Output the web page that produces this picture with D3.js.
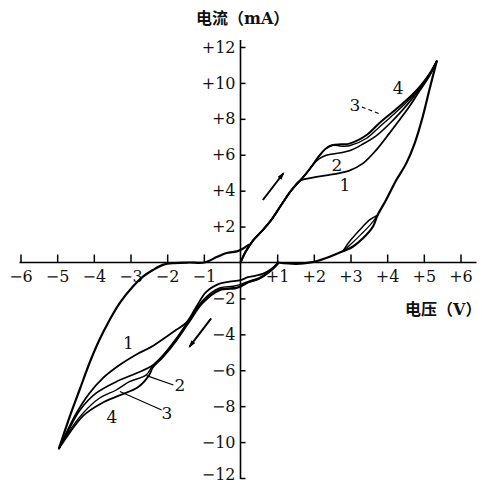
<!DOCTYPE html>
<html>
<head>
<meta charset="utf-8">
<script src="https://cdn.jsdelivr.net/npm/d3@7"></script>
<style>
html, body { margin: 0; padding: 0; background: #fff; }
svg { display: block; }
</style>
</head>
<body>
<div id="chart"></div>
<script>
// ── 데이터: [전압 V, 전류 mA] ─────────────────────────────
const xTicks = [-6, -5, -4, -3, -2, -1, 1, 2, 3, 4, 5, 6];
const yTicks = [12, 10, 8, 6, 4, 2, -2, -4, -6, -8, -10, -12];

// 원점에서 올라가는 공통 구간
const rising = [[0, 0], [0.14, 0.6], [0.34, 1.22], [0.61, 1.81], [0.84, 2.37],
  [1.11, 3.2], [1.38, 4.0], [1.62, 4.55]];

// 위쪽 갈래 1~4 (분기점 이후)
const upper4 = [[1.79, 4.95], [1.97, 5.43], [2.15, 5.95], [2.34, 6.36], [2.52, 6.54],
  [2.75, 6.58], [2.97, 6.62], [3.44, 7.1], [3.79, 7.77], [4.15, 8.38], [4.53, 9.05],
  [4.88, 9.77], [5.15, 10.5], [5.35, 11.2]];
const upper3 = [[2.75, 6.48], [2.97, 6.5], [3.44, 6.92], [3.79, 7.55], [4.15, 8.2],
  [4.53, 8.92], [4.88, 9.7], [5.15, 10.46], [5.35, 11.2]];
const upper2 = [[2.15, 5.78], [2.34, 5.97], [2.7, 6.1], [2.97, 6.22], [3.3, 6.55],
  [3.7, 7.05], [4.15, 7.9], [4.53, 8.75], [4.88, 9.63], [5.15, 10.42], [5.35, 11.2]];
const upper1 = [[1.97, 4.72], [2.34, 4.85], [2.7, 4.98], [2.97, 5.12], [3.34, 5.52],
  [3.7, 6.26], [4.06, 7.19], [4.34, 7.95], [4.61, 8.7], [4.88, 9.55], [5.15, 10.38], [5.35, 11.2]];

// 오른쪽 위 귀환 곡선 (끝점 → +1V)
const returnUpper = [[5.35, 11.2], [5.15, 9.6], [4.97, 8.12], [4.75, 6.64], [4.52, 5.52],
  [4.25, 4.59], [3.97, 3.48], [3.74, 2.64], [3.61, 1.99], [3.34, 1.35], [3.06, 0.88],
  [2.79, 0.62], [2.43, 0.32], [2.15, 0.12], [1.96, 0.02], [1.52, -0.08], [1.02, 0]];
const lensA = [[3.74, 2.64], [3.52, 2.37], [3.25, 1.81], [2.97, 1.16], [2.79, 0.62]];
const lensB = [[3.74, 2.64], [3.55, 2.12], [3.28, 1.55], [3.0, 1.0], [2.79, 0.62]];

// 아래쪽 갈래 1~4 (+1V → 왼쪽 아래 끝점)
const lower1 = [[1.02, -0.02], [0.85, -0.35], [0.62, -0.62], [0.4, -0.74], [0.2, -0.82],
  [0, -0.98], [-0.3, -1.07], [-0.57, -1.18], [-0.94, -1.65], [-1.2, -2.45], [-1.48, -3.35],
  [-1.75, -3.75], [-2.03, -4.15], [-2.39, -4.65], [-2.84, -5.12], [-3.3, -5.71],
  [-3.76, -6.45], [-4.12, -7.28], [-4.48, -8.4], [-4.7, -9.28], [-4.95, -10.35]];
const lower2 = [[1.02, -0.05], [0.79, -0.51], [0.52, -0.88], [0.25, -1.07], [0, -1.3],
  [-0.12, -1.4], [-0.57, -1.5], [-1.03, -2.2], [-1.39, -3.22], [-1.75, -4.3], [-2.12, -5.2],
  [-2.39, -5.72], [-2.84, -6.17], [-3.39, -6.64], [-3.94, -7.28], [-4.39, -8.25],
  [-4.7, -9.38], [-4.95, -10.35]];
const lower3 = [[1.02, -0.05], [0.8, -0.48], [0.52, -0.84], [0.25, -1.02], [0, -1.22],
  [-0.2, -1.32], [-0.57, -1.42], [-1.0, -2.05], [-1.39, -3.15], [-1.75, -4.22],
  [-2.12, -5.18], [-2.4, -5.75], [-2.57, -6.26], [-3.03, -6.64], [-3.39, -7.1],
  [-3.85, -7.56], [-4.3, -8.4], [-4.7, -9.48], [-4.95, -10.35]];
const lower4 = [[1.02, -0.08], [0.78, -0.55], [0.5, -0.92], [0.22, -1.1], [0, -1.35],
  [-0.15, -1.45], [-0.57, -1.55], [-1.03, -2.25], [-1.39, -3.28], [-1.75, -4.35],
  [-2.12, -5.28], [-2.39, -5.85], [-2.5, -6.3], [-2.8, -6.95], [-3.3, -7.4],
  [-3.8, -7.85], [-4.3, -8.55], [-4.7, -9.6], [-4.95, -10.35]];

// 왼쪽 아래 귀환 곡선 (끝점 → -2V → 원점 근처 혹)
const returnLower = [[-4.95, -10.35], [-4.66, -8.59], [-4.39, -7.1], [-4.12, -5.61],
  [-3.85, -4.32], [-3.57, -3.2], [-3.3, -2.27], [-2.94, -1.35], [-2.66, -0.79],
  [-2.39, -0.42], [-2.1, -0.12], [-1.8, -0.03], [-1.4, 0], [-0.98, 0], [-0.65, 0.3],
  [-0.38, 0.53], [-0.1, 0.62], [0.04, 0.74], [0.22, 0.98]];

// 방향 화살표
const arrows = [[[0.61, 3.48], [1.17, 4.97]], [[-0.8, -3.11], [-1.39, -4.69]]];

// 곡선 번호와 지시선
const labels = [
  { t: '1', p: [2.85, 4.32] }, { t: '2', p: [2.63, 5.43] },
  { t: '3', p: [3.12, 8.77] }, { t: '4', p: [4.3, 9.72] },
  { t: '1', p: [-3.06, -4.5] }, { t: '2', p: [-1.65, -6.82] },
  { t: '3', p: [-2.01, -8.4] }, { t: '4', p: [-3.51, -8.59] },
];
const leaders = [
  { a: [3.31, 8.66], b: [3.8, 8.27], dash: true },
  { a: [-2.56, -6.3], b: [-1.83, -6.82], dash: false },
  { a: [-3.29, -7.19], b: [-2.15, -8.21], dash: false },
];

// ── 그리기 ─────────────────────────────────────────────────
const W = 482, H = 484;
const SERIF = "'DejaVu Serif', 'Liberation Serif', serif";
const CJK = "'Noto Sans CJK SC', sans-serif";

const svg = d3.select('#chart').append('svg')
  .attr('width', W).attr('height', H)
  .style('background', '#fff');

const x = d3.scaleLinear().domain([-6, 6]).range([20.5, 460.5]);
const y = d3.scaleLinear().domain([-12, 12]).range([478, 47]);

const fmt = d => (d > 0 ? '+' : '\u2212') + Math.abs(d);

// 축선
svg.append('line')
  .attr('x1', x(-6) - 1).attr('x2', x(6) + 16)
  .attr('y1', y(0)).attr('y2', y(0))
  .attr('stroke', '#000').attr('stroke-width', 1.6);
svg.append('line')
  .attr('x1', x(0)).attr('x2', x(0))
  .attr('y1', y(12) - 7).attr('y2', y(-12) + 1)
  .attr('stroke', '#000').attr('stroke-width', 1.6);

// X 눈금
svg.append('g')
  .attr('transform', `translate(0,${y(0)})`)
  .call(d3.axisBottom(x).tickValues(xTicks).tickFormat(fmt)
    .tickSizeInner(-8).tickSizeOuter(0).tickPadding(8))
  .call(g => g.select('.domain').remove())
  .attr('font-family', SERIF).attr('font-size', 16)
  .call(g => g.selectAll('line').attr('stroke-width', 1.5))
  .call(g => g.selectAll('text').attr('fill', '#111'));

// Y 눈금 (맨 아래 -12 는 잘리지 않게 살짝 올림)
svg.append('g')
  .attr('transform', `translate(${x(0)},0)`)
  .call(d3.axisLeft(y).tickValues(yTicks).tickFormat(fmt)
    .tickSizeInner(-5).tickSizeOuter(0).tickPadding(5))
  .call(g => g.select('.domain').remove())
  .attr('font-family', SERIF).attr('font-size', 16)
  .call(g => g.selectAll('line').attr('stroke-width', 1.5))
  .call(g => g.selectAll('text').attr('fill', '#111')
    .attr('dy', d => d === -12 ? '0.12em' : '0.32em'));

// 곡선
const line = d3.line()
  .x(d => x(d[0])).y(d => y(d[1]))
  .curve(d3.curveCatmullRom.alpha(0.5));

const curves = [
  { pts: rising.concat(upper4), w: 2 },
  { pts: rising.concat(upper4.slice(0, 5), upper3), w: 1.4 },
  { pts: rising.concat(upper4.slice(0, 2), upper2), w: 1.6 },
  { pts: rising.concat(upper1), w: 1.8 },
  { pts: returnUpper, w: 2.2 },
  { pts: lensA, w: 1.5 },
  { pts: lensB, w: 1.2 },
  { pts: lower1, w: 1.8 },
  { pts: lower2, w: 1.6 },
  { pts: lower3, w: 1.4 },
  { pts: lower4, w: 1.8 },
  { pts: returnLower, w: 2.2 },
];

svg.append('g').selectAll('path')
  .data(curves)
  .join('path')
  .attr('d', d => line(d.pts))
  .attr('fill', 'none')
  .attr('stroke', '#000')
  .attr('stroke-width', d => d.w)
  .attr('stroke-linejoin', 'round')
  .attr('stroke-linecap', 'round');

// 화살표
svg.append('defs').append('marker')
  .attr('id', 'arr')
  .attr('viewBox', '0 -3 10 6')
  .attr('refX', 8).attr('refY', 0)
  .attr('markerWidth', 8).attr('markerHeight', 5)
  .attr('markerUnits', 'userSpaceOnUse')
  .attr('orient', 'auto')
  .append('path').attr('d', 'M0,-3L10,0L0,3Z').attr('fill', '#000');

svg.append('g').selectAll('line')
  .data(arrows)
  .join('line')
  .attr('x1', d => x(d[0][0])).attr('y1', d => y(d[0][1]))
  .attr('x2', d => x(d[1][0])).attr('y2', d => y(d[1][1]))
  .attr('stroke', '#000').attr('stroke-width', 2)
  .attr('marker-end', 'url(#arr)');

// 지시선
svg.append('g').selectAll('line')
  .data(leaders)
  .join('line')
  .attr('x1', d => x(d.a[0])).attr('y1', d => y(d.a[1]))
  .attr('x2', d => x(d.b[0])).attr('y2', d => y(d.b[1]))
  .attr('stroke', '#000').attr('stroke-width', 1.1)
  .attr('stroke-dasharray', d => d.dash ? '4,3' : null);

// 곡선 번호
svg.append('g').selectAll('text')
  .data(labels)
  .join('text')
  .attr('x', d => x(d.p[0])).attr('y', d => y(d.p[1]))
  .attr('text-anchor', 'middle')
  .attr('dominant-baseline', 'central')
  .attr('font-family', SERIF).attr('font-size', 17)
  .attr('fill', '#111')
  .text(d => d.t);

// 축 제목
function title(tx, ty, a, b) {
  const t = svg.append('text')
    .attr('x', tx).attr('y', ty)
    .attr('font-size', 16).attr('font-weight', 700)
    .attr('fill', '#111');
  t.append('tspan').attr('font-family', CJK).text(a + '\uFF08');
  t.append('tspan').attr('font-family', SERIF).text(b);
  t.append('tspan').attr('font-family', CJK).text('\uFF09');
}
title(196, 24, '电流', 'mA');
title(405, 315, '电压', 'V');
</script>
</body>
</html>
